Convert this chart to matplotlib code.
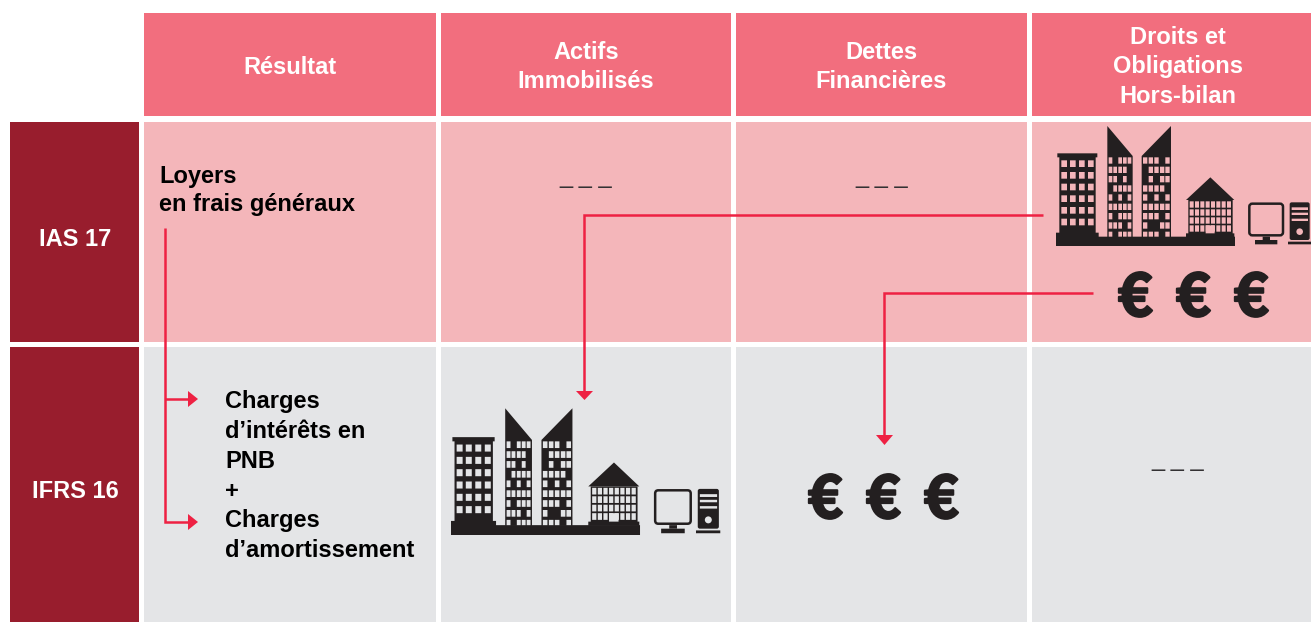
import matplotlib
matplotlib.use("Agg")
import matplotlib.pyplot as plt
import matplotlib.patheffects as pe
from matplotlib.patches import Rectangle, Polygon, Circle, FancyBboxPatch

plt.rcParams["font.family"] = ["Liberation Sans", "DejaVu Sans"]

# Table content
col_titles = ["Résultat", "Actifs\nImmobilisés", "Dettes\nFinancières", "Droits et\nObligations\nHors-bilan"]
row_titles = ["IAS 17", "IFRS 16"]
ias_text = ["Loyers", "en frais généraux"]
ifrs_text = ["Charges", "d’intérêts en", "PNB", "+", "Charges", "d’amortissement"]
empty_cell = "_ _ _"
euro = "€"

# Table layout, in pixels
col_edges = [(144, 436), (441, 731), (736, 1027), (1032, 1311)]
col_centres = [290, 586, 881, 1178]
row_edges = [(122, 342), (347, 622)]
row_label_y = [240, 492]

# Colours
header_col = "#F26E7E"
dark_col = "#981D2D"
pink_col = "#F4B6BA"
grey_col = "#E4E5E7"
ink_col = "#231F20"
red_col = "#EE2143"

# Windows of the two towers
tower_a = [[1,0,1,1,1], [1,1,1,1,0], [1,1,0,1,0], [0,1,1,1,1], [1,0,1,0,1],
           [1,1,1,1,1], [1,0,1,1,1], [1,1,1,0,1], [1,0,1,1,1]]
tower_b = [[1,1,1,0,1], [0,1,1,1,1], [0,1,0,1,1], [1,1,1,1,0], [1,0,1,0,1],
           [1,1,1,1,1], [1,1,1,0,1], [1,0,0,1,1], [1,1,1,0,1]]
tower_rows = [112, 140, 168, 196, 223, 251, 279, 307, 335]

fig = plt.figure(figsize=(13.11, 6.22), dpi=100)
ax = fig.add_axes([0, 0, 1, 1])
ax.set_xlim(0, 1311)
ax.set_ylim(622, 0)
ax.axis("off")


def box(x0, y0, x1, y1, color):
    ax.add_patch(Rectangle((x0, y0), x1 - x0, y1 - y0, fc=color, ec="none", snap=False))


# -----------------------------
# Table cells
# -----------------------------
for (x0, x1), cx, title in zip(col_edges, col_centres, col_titles):
    box(x0, 13, x1, 116, header_col)
    ax.text(cx, 67, title, color="white", fontsize=17, fontweight="bold",
            ha="center", va="center", linespacing=1.38)

for (y0, y1), ly, title, fill in zip(row_edges, row_label_y, row_titles, [pink_col, grey_col]):
    box(10, y0, 139, y1, dark_col)
    ax.text(75, ly, title, color="white", fontsize=17, fontweight="bold", ha="center", va="center")
    for x0, x1 in col_edges:
        box(x0, y0, x1, y1, fill)

for y, txt in zip([183, 211], ias_text):
    ax.text(159, y, txt, color="black", fontsize=17, fontweight="bold", va="baseline")

for y, txt in zip([408, 438, 468, 498, 527, 557], ifrs_text):
    ax.text(225, y, txt, color="black", fontsize=17, fontweight="bold", va="baseline")

for x, y in [(586, 177), (882, 177), (1178, 460)]:
    ax.text(x, y, empty_cell, color="#333133", fontsize=17, ha="center", va="center")


# -----------------------------
# City icon (sizes follow the 3x zoom of the reference)
# -----------------------------
def city(ox, oy, s, bg):
    def X(v):
        return ox + (v - 48) / 3 * s

    def Y(v):
        return oy + (v - 378) / 3 * s

    def r(x0, y0, x1, y1, c=ink_col):
        box(X(x0), Y(y0), X(x1), Y(y1), c)

    def poly(pts, c=ink_col):
        ax.add_patch(Polygon([(X(a), Y(b)) for a, b in pts], fc=c, ec="none", snap=False))

    # ground
    r(48, 350, 585, 378)

    # left block
    r(58, 110, 167, 340)
    r(52, 100, 172, 112)
    r(48, 338, 176, 378)
    for wy in [121, 156, 191, 226, 261, 296]:
        for wx in [64, 90, 117, 144]:
            r(wx, wy, wx + 17, wy + 20, bg)

    # towers
    poly([(202, 352), (202, 18), (278, 108), (278, 352)])
    poly([(305, 352), (305, 108), (393, 18), (393, 352)])
    for row, wy in zip(tower_a, tower_rows):
        for on, wx in zip(row, [206, 220, 235, 249, 263]):
            if on:
                r(wx, wy, wx + 11, min(wy + 19, 350), bg)
    for row, wy in zip(tower_b, tower_rows):
        for on, wx in zip(row, [309, 326, 343, 360, 376]):
            if on:
                r(wx, wy, wx + 13, min(wy + 19, 350), bg)

    # house
    poly([(438, 240), (511, 172), (583, 240)])
    r(445, 240, 578, 342)
    r(438, 340, 583, 352)
    for wy in [244, 268, 292, 316]:
        for k in range(8):
            wx = 449 + k * 16
            r(wx, wy, wx + 12, wy + 19, bg)
    r(497, 316, 524, 340, bg)

    # computer
    ax.add_patch(FancyBboxPatch((X(628), Y(251)), 101 / 3 * s, 95 / 3 * s,
                                boxstyle="round,pad=0,rounding_size=%.1f" % (3 * s),
                                fc=bg, ec=ink_col, lw=1.8))
    r(668, 350, 690, 360)
    r(645, 360, 712, 373)
    ax.add_patch(FancyBboxPatch((X(749), Y(247)), 60 / 3 * s, 113 / 3 * s,
                                boxstyle="round,pad=0,rounding_size=%.1f" % (2 * s),
                                fc=ink_col, ec="none"))
    for y0, y1 in [(262, 270), (278, 285), (296, 303)]:
        r(755, y0, 804, y1, bg)
    ax.add_patch(Circle((X(779), Y(335)), 3.3 * s, fc=bg, ec="none"))
    r(744, 365, 813, 373)


city(1056, 246, 1.0, pink_col)
city(451, 535, 1.056, grey_col)

# euro signs, slightly thickened to get the heavy cut of the original
for x, y in [(1135, 299), (1193, 299), (1251, 299), (825, 501), (883, 501), (941, 501)]:
    ax.text(x, y, euro, color=ink_col, fontsize=43, fontweight="bold", family="Noto Sans CJK SC",
            ha="center", va="center", path_effects=[pe.withStroke(linewidth=1.5, foreground=ink_col)])


# -----------------------------
# Red connectors
# -----------------------------
def line(xs, ys):
    ax.plot(xs, ys, color=red_col, lw=1.8, solid_capstyle="butt", solid_joinstyle="miter", zorder=3)


def head(pts):
    ax.add_patch(Polygon(pts, fc=red_col, ec="none", zorder=3))


line([1043, 584, 584], [215, 215, 392])
head([(576, 391), (593, 391), (584.5, 400)])
line([1093, 884, 884], [293, 293, 436])
head([(876, 435), (893, 435), (884.5, 445)])
line([165, 165, 189], [228, 522, 522])
line([165, 189], [399, 399])
head([(188, 391), (188, 407), (198, 399)])
head([(188, 514), (188, 530), (198, 522)])

fig.savefig("out.png", dpi=100)
